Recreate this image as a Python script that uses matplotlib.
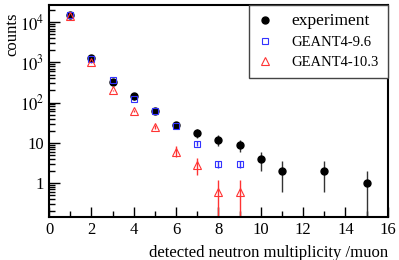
import numpy as np
import matplotlib.pyplot as plt
from matplotlib.ticker import FixedLocator, MultipleLocator

plt.rcParams['font.family'] = ['Liberation Serif', 'DejaVu Serif']
plt.rcParams['mathtext.fontset'] = 'stix'

# experiment
x_exp = [1, 2, 3, 4, 5, 6, 7, 8, 9, 10, 11, 13, 15]
y_exp = [15000, 1300, 320, 145, 62, 28, 17.5, 12, 9, 4, 2, 2, 1]
err_exp_lo = [122, 36, 18, 12, 8, 5.3, 4.2, 3.5, 3, 2, 1.41, 1.41, 0.999]
err_exp_hi = [122, 36, 18, 12, 8, 5.3, 4.2, 3.5, 3, 2, 1.41, 1.41, 1]

# GEANT4-9.6
x_g96 = [1, 2, 3, 4, 5, 6, 7, 8, 9]
y_g96 = [15000, 1250, 370, 125, 62, 26, 9.5, 2.9, 2.9]
err_g96 = [60, 20, 10, 6, 4, 2.5, 1.4, 0.6, 0.6]

# GEANT4-10.3
x_g103 = [1, 2, 3, 4, 5, 6, 7, 8, 9]
y_g103 = [14000, 1000, 200, 62, 25, 6, 2.75, 0.6, 0.6]
err_g103_lo = [60, 20, 8, 4, 2.5, 1.6, 1.2, 0.599, 0.599]
err_g103_hi = [60, 20, 8, 4, 2.5, 2.2, 1.4, 0.6, 0.6]

fig = plt.figure(figsize=(3.99, 2.6), dpi=100)
ax = fig.add_axes([0.123, 0.165, 0.849, 0.817])

e1 = ax.errorbar(x_exp, y_exp, yerr=[err_exp_lo, err_exp_hi], fmt='o', color='black',
                 ecolor='#333333', elinewidth=1, markersize=5, capsize=0)
e2 = ax.errorbar(x_g96, y_g96, yerr=err_g96, fmt='s', color='#3333ff', mfc='none',
                 elinewidth=1, markersize=5, mew=0.8, capsize=0)
e3 = ax.errorbar(x_g103, y_g103, yerr=[err_g103_lo, err_g103_hi], fmt='^', color='#ff3333',
                 mfc='none', elinewidth=1, markersize=5.5, mew=0.8, capsize=0)

ax.set_yscale('log')
ax.set_xlim(0, 16)
ax.set_ylim(0.14, 27500)
ax.xaxis.set_major_locator(MultipleLocator(2))
ax.xaxis.set_minor_locator(MultipleLocator(1))
ax.set_yticks([1, 10, 100, 1000, 10000])
ax.set_yticklabels(['1', '10', r'$10^2$', r'$10^3$', r'$10^4$'])
minors = [m * 10.0 ** e for e in range(-1, 5) for m in range(2, 10)]
ax.yaxis.set_minor_locator(FixedLocator(minors))

ax.tick_params(which='both', direction='in', labelsize=12, width=1)
ax.tick_params(which='major', length=7)
ax.tick_params(which='minor', length=4)
ax.tick_params(axis='y', which='major', length=8)
for s in ax.spines.values():
    s.set_linewidth(1.5)

ax.set_ylabel('counts', fontsize=12)
ax.yaxis.set_label_coords(-0.085, 0.86)
ax.set_xlabel('detected neutron multiplicity /muon', fontsize=12)
ax.xaxis.set_label_coords(1.0, -0.13)
ax.xaxis.label.set_horizontalalignment('right')

leg = ax.legend([e1[0], e2[0], e3[0]], ['experiment', 'GEANT4-9.6', 'GEANT4-10.3'],
                loc='upper right', borderaxespad=0, fancybox=False, edgecolor='#444444',
                framealpha=1, handlelength=1.0, handletextpad=1.3, labelspacing=0.45,
                borderpad=0.6, fontsize=10.5)
leg.get_frame().set_linewidth(1)
leg.get_texts()[0].set_fontsize(12.5)

fig.savefig('out.png', dpi=100)
